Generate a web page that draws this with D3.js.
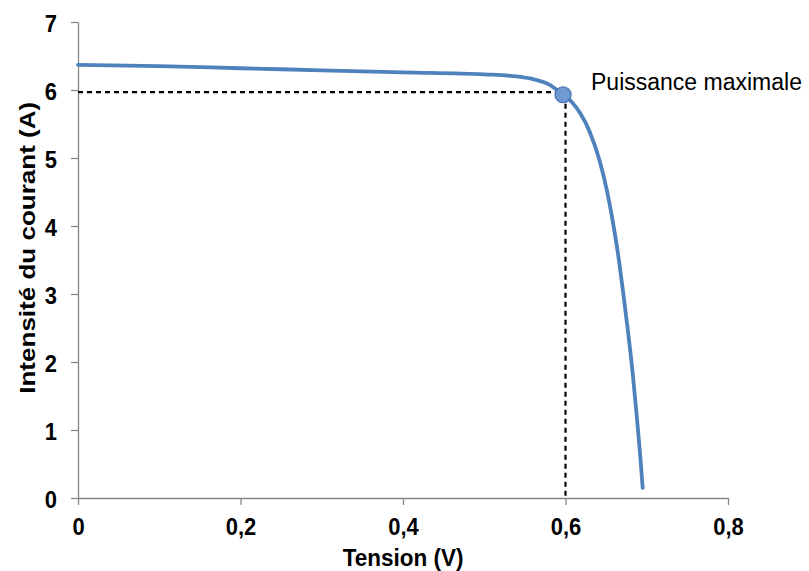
<!DOCTYPE html>
<html>
<head>
<meta charset="utf-8">
<script src="https://cdn.jsdelivr.net/npm/d3@7/dist/d3.min.js"></script>
<style>
  body { margin: 0; background: #fff; }
  svg { display: block; font-family: "Liberation Sans", Arial, sans-serif; }
</style>
</head>
<body>
<svg id="chart" width="809" height="571"></svg>
<script>
// Data
const voltage = [0, 0.1, 0.2, 0.3, 0.4, 0.5, 0.54, 0.56, 0.58, 0.597, 0.608, 0.618, 0.630, 0.642, 0.651, 0.658, 0.665, 0.671, 0.677, 0.683, 0.688, 0.692, 0.695];
const current = [6.37, 6.35, 6.32, 6.29, 6.26, 6.23, 6.20, 6.16, 6.08, 5.93, 5.82, 5.66, 5.38, 4.96, 4.52, 4.08, 3.56, 3.02, 2.44, 1.80, 1.16, 0.62, 0.15];
const maxPoint = { v: 0.597, i: 5.93 };
const guide = { v: 0.6, i: 5.97 };
const xTicks = [0, 0.2, 0.4, 0.6, 0.8];
const yTicks = [0, 1, 2, 3, 4, 5, 6, 7];
const xTitle = "Tension (V)";
const yTitle = "Intensité du courant (A)";
const annotation = "Puissance maximale";

const svg = d3.select("#chart");
const m = { left: 78, right: 81, top: 22, bottom: 73 };
const W = 809, H = 571;
const x = d3.scaleLinear().domain([0, 0.8]).range([m.left, W - m.right]);
const y = d3.scaleLinear().domain([0, 7]).range([H - m.bottom, m.top]);

const fmt = d => d === 0 ? "0" : d3.format(".1f")(d).replace(".", ",");

// X axis
const gx = svg.append("g").attr("transform", `translate(0,${y(0)})`)
  .call(d3.axisBottom(x).tickValues(xTicks).tickFormat(fmt).tickSize(7).tickSizeOuter(0));
gx.select(".domain").attr("stroke", "#888").attr("stroke-width", 1.3);
gx.selectAll(".tick line").attr("stroke", "#888").attr("stroke-width", 1.3);
gx.selectAll(".tick text").attr("fill", "#000").attr("font-size", 22).attr("font-weight", "bold")
  .attr("font-family", "Liberation Sans, Arial, sans-serif")
  .attr("y", 0).attr("dy", null)
  .attr("transform", "translate(0,37) scale(1,1.12)");

// Y axis
const gy = svg.append("g").attr("transform", `translate(${x(0)},0)`)
  .call(d3.axisLeft(y).tickValues(yTicks).tickFormat(d3.format("d")).tickSize(7).tickSizeOuter(0));
gy.select(".domain").attr("stroke", "#888").attr("stroke-width", 1.3);
gy.selectAll(".tick line").attr("stroke", "#888").attr("stroke-width", 1.3);
gy.selectAll(".tick text").attr("fill", "#000").attr("font-size", 22).attr("font-weight", "bold")
  .attr("font-family", "Liberation Sans, Arial, sans-serif")
  .attr("x", 0).attr("dy", null)
  .attr("transform", "translate(-21,9) scale(1,1.12)");

// Axis titles
svg.append("text").attr("transform", `translate(${x(0.4)},566) scale(1,1.05)`).attr("text-anchor", "middle")
  .attr("font-size", 22.5).attr("font-weight", "bold").text(xTitle);
svg.append("text").attr("transform", `translate(35,${y(3.68)}) rotate(-90)`)
  .attr("text-anchor", "middle").attr("font-size", 22).attr("font-weight", "bold")
  .attr("textLength", 292).attr("lengthAdjust", "spacingAndGlyphs").text(yTitle);

// Dashed guides
svg.append("path")
  .attr("d", `M${x(0)},${y(guide.i)}H${x(maxPoint.v)}M${x(guide.v)},${y(maxPoint.i)}V${y(0)}`)
  .attr("fill", "none").attr("stroke", "#000").attr("stroke-width", 2.2).attr("stroke-dasharray", "5,4");

// Curve
const pts = voltage.map((v, k) => [v, current[k]]);
svg.append("path").datum(pts)
  .attr("d", d3.line().x(d => x(d[0])).y(d => y(d[1])).curve(d3.curveMonotoneX))
  .attr("fill", "none").attr("stroke", "#4f81bd").attr("stroke-width", 3.8).attr("stroke-linecap", "round");

// Max power point
svg.append("circle").attr("cx", x(maxPoint.v)).attr("cy", y(maxPoint.i)).attr("r", 8)
  .attr("fill", "#6f99d3").attr("stroke", "#3f6fae").attr("stroke-width", 1.2);

svg.append("text").attr("x", 591).attr("y", 90).attr("font-size", 23).attr("fill", "#000").text(annotation);
</script>
</body>
</html>
